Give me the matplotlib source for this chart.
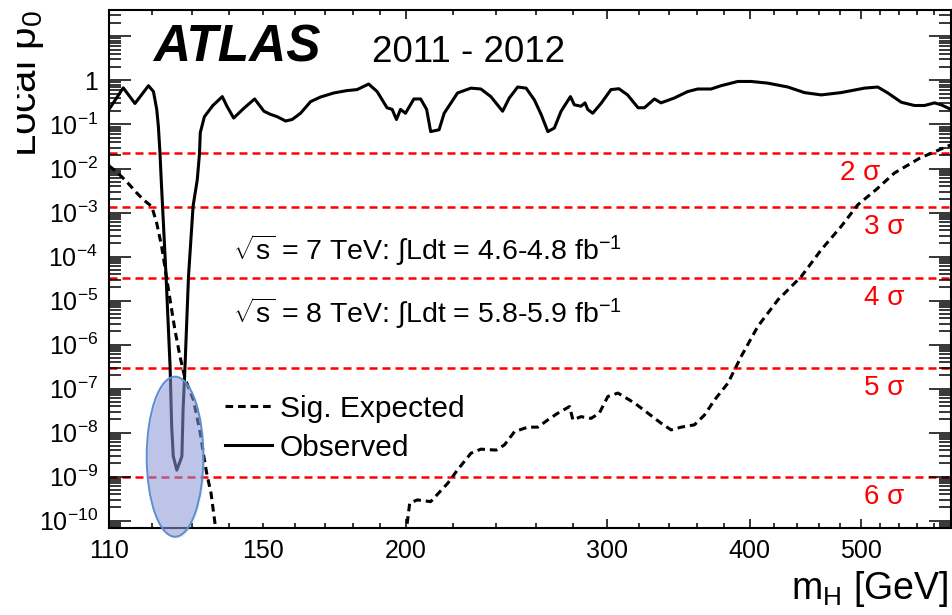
import numpy as np
import matplotlib
matplotlib.use("Agg")
import matplotlib.pyplot as plt
from matplotlib.patches import Ellipse, Rectangle
from matplotlib.ticker import FuncFormatter, NullFormatter, LogLocator
import matplotlib.transforms as mtransforms

plt.rcParams['font.family'] = ['Liberation Sans', 'DejaVu Sans']
plt.rcParams['mathtext.fontset'] = 'custom'
plt.rcParams['mathtext.rm'] = 'Liberation Sans'
plt.rcParams['mathtext.it'] = 'Liberation Sans:italic'
plt.rcParams['mathtext.bf'] = 'Liberation Sans:bold'

# observed local p0
obs_mass = [110.0, 113.2, 115.9, 119.1, 120.3, 121.1, 121.5, 121.9, 122.2, 123.4,
            124.4, 124.8, 125.2, 126.1, 127.4, 127.7, 128.2, 129.1, 130.3, 131.4,
            132.0, 132.2, 133.3, 135.6, 138.2, 139.5, 141.4, 144.5, 147.5, 150.3,
            152.3, 154.4, 157.0, 159.1, 161.8, 165.1, 168.4, 173.0, 177.7, 181.3,
            185.6, 188.8, 192.6, 194.6, 196.3, 197.9, 199.9, 203.3, 206.1, 208.6,
            210.3, 213.9, 216.1, 222.0, 228.1, 232.7, 237.4, 243.1, 246.4, 250.6,
            254.9, 259.2, 262.7, 266.3, 269.8, 273.5, 278.7, 280.9, 284.7, 287.0,
            288.6, 291.5, 296.4, 302.4, 307.3, 312.7, 319.4, 323.5, 330.1, 334.5,
            343.6, 353.0, 360.2, 370.0, 377.5, 390.5, 401.1, 414.8, 431.9, 446.6,
            461.9, 480.8, 504.0, 517.7, 528.3, 542.8, 557.4, 568.8, 580.4, 588.3,
            600.0]
obs_p0 = [0.22, 0.68, 0.30, 0.76, 0.56, 0.22, 0.09, 0.022, 5.5e-3, 3.5e-5,
          3.2e-7, 1.4e-8, 2.9e-9, 1.4e-9, 2.9e-9, 3.3e-8, 3.2e-7, 3.5e-5, 1.4e-3, 5.5e-3,
          0.022, 0.065, 0.15, 0.27, 0.43, 0.26, 0.14, 0.24, 0.38, 0.20,
          0.17, 0.15, 0.12, 0.13, 0.18, 0.33, 0.42, 0.52, 0.59, 0.62,
          0.83, 0.56, 0.24, 0.22, 0.13, 0.22, 0.18, 0.38, 0.38, 0.22,
          0.069, 0.076, 0.18, 0.52, 0.67, 0.64, 0.43, 0.20, 0.40, 0.71,
          0.67, 0.36, 0.17, 0.069, 0.083, 0.20, 0.43, 0.28, 0.26, 0.31,
          0.22, 0.18, 0.30, 0.62, 0.65, 0.47, 0.24, 0.24, 0.38, 0.31,
          0.40, 0.56, 0.64, 0.64, 0.76, 0.95, 0.95, 0.87, 0.71, 0.53,
          0.47, 0.53, 0.67, 0.71, 0.52, 0.32, 0.27, 0.27, 0.31, 0.28,
          0.22]

# expected local p0 for a SM Higgs
exp_mass = [110.0, 111.7, 114.0, 116.3, 117.9, 119.9, 121.1, 122.3, 123.6, 124.4,
            125.6, 126.9, 128.2, 130.4, 132.2, 133.3, 134.0, 135.1, 136.3, 137.5,
            200.0, 200.5, 201.6, 204.7, 210.3, 217.7, 222.0, 228.1, 232.7, 240.0,
            244.0, 249.0, 255.8, 261.0, 266.3, 271.7, 278.2, 280.1, 284.7, 290.5,
            295.4, 300.5, 306.7, 317.1, 325.8, 334.5, 341.4, 348.4, 357.8, 365.1,
            372.6, 382.8, 393.2, 406.6, 423.4, 443.7, 461.9, 480.8, 497.3, 515.9,
            535.4, 563.4, 590.6, 600.0]
exp_p0 = [0.0115, 8.4e-3, 5.0e-3, 2.8e-3, 1.95e-3, 1.37e-3, 5.7e-4, 1.7e-4, 3.0e-5, 1.04e-5,
          2.2e-6, 5.4e-7, 1.7e-7, 5.5e-8, 9.7e-9, 2.4e-9, 1.1e-9, 4.2e-10, 7.3e-11, 1e-12,
          1e-12, 8e-11, 2.5e-10, 2.95e-10, 2.7e-10, 7.1e-10, 1.42e-9, 3.4e-9, 4.2e-9, 4.0e-9,
          5.25e-9, 1.05e-8, 1.33e-8, 1.33e-8, 1.94e-8, 2.76e-8, 3.9e-8, 1.94e-8, 2.3e-8, 2.1e-8,
          2.76e-8, 6.6e-8, 7.9e-8, 4.7e-8, 2.76e-8, 1.64e-8, 1.15e-8, 1.33e-8, 1.5e-8, 2.5e-8,
          5.5e-8, 1.33e-7, 5.4e-7, 2.6e-6, 1.04e-5, 3.5e-5, 1.42e-4, 4.8e-4, 1.5e-3, 3.3e-3,
          7.9e-3, 0.0172, 0.029, 0.0346]

sigma_labels = ["2 σ", "3 σ", "4 σ", "5 σ", "6 σ"]
sigma_p0 = [2.275e-2, 1.35e-3, 3.17e-5, 2.87e-7, 9.87e-10]
sigma_label_x = [0.9157, 0.945, 0.945, 0.945, 0.945]

x_major = [200, 300, 400, 500]
x_minor = [110, 120, 130, 140, 150, 160, 170, 180, 190,
           220, 240, 260, 280, 320, 340, 360, 380, 420, 440, 460, 480,
           520, 540, 560, 580]
x_minor_labels = ["110", "", "", "", "150"] + [""] * (len(x_minor) - 5)

fig = plt.figure(figsize=(9.53, 6.15), dpi=100)
ax = fig.add_axes([0.1144, 0.1415, 0.8835, 0.8423])
ax.set_xscale('log')
ax.set_yscale('log')
ax.set_xlim(110, 600)
ax.set_ylim(6.8e-11, 40)

# sigma lines
trans = mtransforms.blended_transform_factory(ax.transAxes, ax.transData)
for lab, p, xl in zip(sigma_labels, sigma_p0, sigma_label_x):
    ax.axhline(p, color='#ff0000', lw=1.8, dashes=(3.2, 2.0), zorder=1)
    ax.text(xl, p * 0.351, lab, color='#ff0000', fontsize=20,
            ha='right', va='center', transform=trans)

ax.plot(exp_mass, exp_p0, color='black', lw=2.2, dashes=(2.5, 1.6),
        label='Sig. Expected', zorder=3)
ax.plot(obs_mass, obs_p0, color='black', lw=2.2, label='Observed', zorder=3)

# highlight around the discovery
shadow = Ellipse((0.0804, 0.1336), 0.0673, 0.309, transform=ax.transAxes,
                 facecolor='#888888', alpha=0.12, edgecolor='none',
                 clip_on=False, zorder=4)
ax.add_patch(shadow)
ell = Ellipse((0.0784, 0.1376), 0.0673, 0.309, transform=ax.transAxes,
              facecolor=(0.55, 0.60, 0.88, 0.5), edgecolor='#5b8fd0', lw=1.4,
              clip_on=False, zorder=5)
ax.add_patch(ell)

# axes styling
ax.set_xticks(x_major, labels=[str(v) for v in x_major])
ax.set_xticks(x_minor, labels=x_minor_labels, minor=True)
ax.set_yticks(10.0 ** np.arange(-10, 2))
ax.yaxis.set_minor_locator(LogLocator(base=10, subs=np.arange(2, 10), numticks=50))
ax.yaxis.set_minor_formatter(NullFormatter())


def ylab(v, pos):
    e = int(round(np.log10(v)))
    if e == 0:
        return "1"
    if e > 0:
        return ""
    return r"$10^{%d}$" % e


ax.yaxis.set_major_formatter(FuncFormatter(ylab))
ax.tick_params(which='both', direction='in', top=True, right=True, width=1.1,
               labelsize=18, pad=8)
ax.tick_params(axis='y', which='major', length=16)
ax.tick_params(axis='y', which='minor', length=8.5)
ax.tick_params(axis='x', which='major', length=6.5)
ax.tick_params(axis='x', which='minor', length=3.8)
for s in ax.spines.values():
    s.set_linewidth(1.5)

ax.set_xlabel(r"m$_\mathrm{H}$ [GeV]", fontsize=27, ha='right')
ax.xaxis.set_label_coords(0.9964, -0.08)
ax.set_ylabel(r"Local p$_0$", fontsize=29, loc='top')
ax.yaxis.set_label_coords(-0.075, 1.0)

# the original picture is cropped through the y title
fig.add_artist(Rectangle((0, 0), 17 / 953, 1, transform=fig.transFigure,
                         facecolor='white', edgecolor='none', zorder=10))

ax.text(0.052, 0.90, "ATLAS", transform=ax.transAxes, fontsize=37,
        fontweight='bold', fontstyle='italic', va='baseline')
ax.text(0.312, 0.90, "2011 - 2012", transform=ax.transAxes, fontsize=26.5,
        va='baseline')

ax.text(0.147, (528 - 260) / 518, r"$\sqrt{\mathrm{s}}$ = 7 TeV: $\int$Ldt = 4.6-4.8 fb$^{-1}$",
        transform=ax.transAxes, fontsize=20.5, va='baseline')
ax.text(0.147, (528 - 323) / 518, r"$\sqrt{\mathrm{s}}$ = 8 TeV: $\int$Ldt = 5.8-5.9 fb$^{-1}$",
        transform=ax.transAxes, fontsize=20.5, va='baseline')

ax.legend(loc='upper left', bbox_to_anchor=(0.138, 0.257), frameon=False,
          fontsize=21.5, handlelength=1.55, handletextpad=0.27, labelspacing=0.37,
          borderpad=0, borderaxespad=0)

fig.savefig("out.png", dpi=100)
